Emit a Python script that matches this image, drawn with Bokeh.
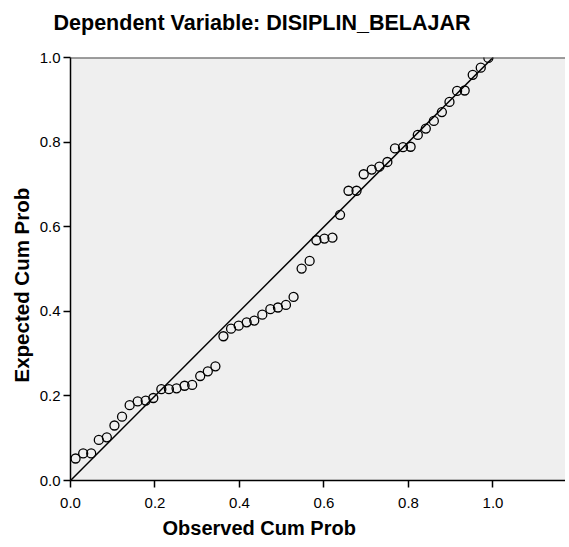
from bokeh.plotting import figure
from bokeh.models import Range1d, FixedTicker, Title, Span, ColumnDataSource
from bokeh.embed import file_html
from bokeh.resources import INLINE

observed = [0.012, 0.030, 0.049, 0.067, 0.086, 0.104, 0.122, 0.140, 0.159, 0.178,
            0.196, 0.215, 0.233, 0.251, 0.270, 0.288, 0.307, 0.325, 0.343, 0.362,
            0.380, 0.398, 0.417, 0.435, 0.454, 0.473, 0.491, 0.510, 0.528, 0.547,
            0.566, 0.582, 0.601, 0.620, 0.638, 0.658, 0.677, 0.694, 0.713, 0.731,
            0.750, 0.768, 0.787, 0.805, 0.822, 0.841, 0.860, 0.879, 0.897, 0.915,
            0.933, 0.952, 0.971, 0.989]
expected = [0.052, 0.064, 0.064, 0.096, 0.102, 0.130, 0.151, 0.178, 0.187, 0.189,
            0.195, 0.216, 0.216, 0.218, 0.224, 0.226, 0.247, 0.258, 0.270, 0.341,
            0.359, 0.366, 0.374, 0.378, 0.392, 0.405, 0.409, 0.415, 0.434, 0.501,
            0.519, 0.568, 0.572, 0.574, 0.628, 0.685, 0.685, 0.724, 0.735, 0.742,
            0.753, 0.785, 0.788, 0.789, 0.817, 0.832, 0.850, 0.871, 0.895, 0.921,
            0.922, 0.959, 0.976, 0.999]
ref_line_x = [0.0, 1.0]
ref_line_y = [0.0, 1.0]
tick_values = [0.0, 0.2, 0.4, 0.6, 0.8, 1.0]
tick_labels = ["0.0", "0.2", "0.4", "0.6", "0.8", "1.0"]

title_text = "Dependent Variable: DISIPLIN_BELAJAR"
x_label = "Observed Cum Prob"
y_label = "Expected Cum Prob"

FONT = "Liberation Sans"

p = figure(frame_width=495, frame_height=423,
           x_range=Range1d(0, 1.1716), y_range=Range1d(0, 1.0),
           output_backend="svg", toolbar_location=None,
           min_border_left=70, min_border_right=0, min_border_top=55, min_border_bottom=5)
p.background_fill_color = "#EFEFEF"
p.border_fill_color = "white"
p.outline_line_color = None
p.xgrid.grid_line_color = None
p.ygrid.grid_line_color = None

labels = dict(zip(tick_values, tick_labels))
for ax in (p.xaxis[0], p.yaxis[0]):
    ax.ticker = FixedTicker(ticks=tick_values)
    ax.major_label_overrides = labels
    ax.axis_line_color = "black"
    ax.axis_line_width = 1.5
    ax.major_tick_line_color = "black"
    ax.major_tick_line_width = 1.5
    ax.major_tick_in = 0
    ax.major_tick_out = 7
    ax.minor_tick_line_color = None
    ax.major_label_text_font = FONT
    ax.major_label_text_font_size = "15px"
    ax.major_label_text_color = "black"
p.xaxis[0].major_label_standoff = 10
p.yaxis[0].major_label_standoff = 3

top = Span(location=1.0, dimension="width", line_color="#444444", line_width=2)
p.add_layout(top)

p.line(ref_line_x, ref_line_y, line_color="black", line_width=1.5)
src = ColumnDataSource(dict(x=observed, y=expected))
p.scatter("x", "y", source=src, size=9, marker="circle", fill_color=None,
          line_color="black", line_width=1.3)

spacer = Title(text=" ", text_font_size="1px", standoff=7)
p.add_layout(spacer, "above")
t = Title(text=title_text, align="right", offset=95, text_font=FONT,
          text_font_size="21.5px", text_font_style="bold", text_color="black",
          vertical_align="top", standoff=21)
p.add_layout(t, "above")

xl = Title(text=x_label, align="left", offset=92, text_font=FONT,
           text_font_size="20px", text_font_style="bold", text_color="black", standoff=8)
p.add_layout(xl, "below")

yl = Title(text=y_label, align="left", offset=98, text_font=FONT,
           text_font_size="20.5px", text_font_style="bold", text_color="black", standoff=8)
p.add_layout(yl, "left")

open("out.html", "w").write(file_html(p, INLINE))
